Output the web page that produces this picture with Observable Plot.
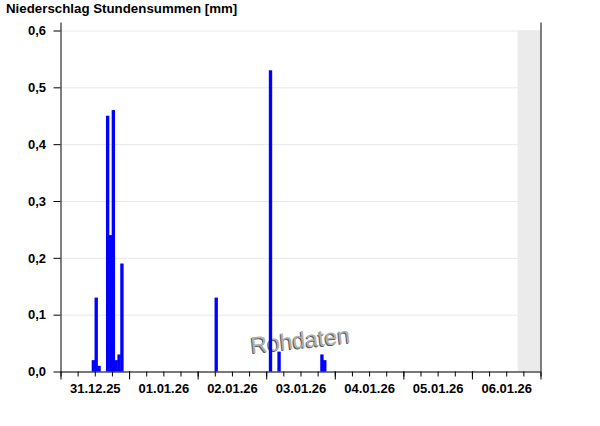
<!DOCTYPE html>
<html>
<head>
<meta charset="utf-8">
<script src="https://cdn.jsdelivr.net/npm/d3@7"></script>
<script src="https://cdn.jsdelivr.net/npm/@observablehq/plot@0.6"></script>
<style>
  html, body { margin: 0; padding: 0; background: #fff; }
  #wrap { position: relative; width: 600px; height: 426px; overflow: hidden; }
  #title { position: absolute; left: 6px; top: 1px; font: bold 13.3px "Liberation Sans", Arial, sans-serif; color: #000; white-space: nowrap; z-index: 2; }
  #chart svg { position: absolute; left: 0; top: 0; }
</style>
</head>
<body>
<div id="wrap">
  <div id="title">Niederschlag Stundensummen [mm]</div>
  <div id="chart"></div>
</div>
<script>
// ---- data ----
const periodStart = "2025-12-31T00:00:00Z";
const periodEnd = "2026-01-07T00:00:00Z";
const futureStart = "2026-01-06T16:00:00Z";
const barHours = [
  "2025-12-31T11:00:00Z", "2025-12-31T12:00:00Z", "2025-12-31T13:00:00Z",
  "2025-12-31T16:00:00Z", "2025-12-31T17:00:00Z", "2025-12-31T18:00:00Z",
  "2025-12-31T19:00:00Z", "2025-12-31T20:00:00Z", "2025-12-31T21:00:00Z",
  "2026-01-02T06:00:00Z",
  "2026-01-03T01:00:00Z", "2026-01-03T04:00:00Z",
  "2026-01-03T19:00:00Z", "2026-01-03T20:00:00Z"
];
const barValues = [0.02, 0.13, 0.01, 0.45, 0.24, 0.46, 0.02, 0.03, 0.19, 0.13, 0.53, 0.035, 0.03, 0.02];
const dayNoons = ["2025-12-31T12:00:00Z", "2026-01-01T12:00:00Z", "2026-01-02T12:00:00Z",
  "2026-01-03T12:00:00Z", "2026-01-04T12:00:00Z", "2026-01-05T12:00:00Z", "2026-01-06T12:00:00Z"];
const dayLabels = ["31.12.25", "01.01.26", "02.01.26", "03.01.26", "04.01.26", "05.01.26", "06.01.26"];
const yTicks = [0, 0.1, 0.2, 0.3, 0.4, 0.5, 0.6];
const yTickLabels = ["0,0", "0,1", "0,2", "0,3", "0,4", "0,5", "0,6"];
const watermark = ["Rohdaten"];

// ---- build ----
const t0 = new Date(periodStart), t1 = new Date(periodEnd);
const bars = barHours.map((h, i) => {
  const a = new Date(h);
  return {x1: a, x2: d3.utcHour.offset(a, 1), y: barValues[i]};
});
const noonDates = dayNoons.map(d => new Date(d));
const labelOf = new Map(noonDates.map((d, i) => [+d, dayLabels[i]]));
const yLabelOf = new Map(yTicks.map((v, i) => [v, yTickLabels[i]]));
const sixHourTicks = d3.utcHour.every(6).range(t0, d3.utcHour.offset(t1, 1));
const midnightTicks = d3.utcDay.range(t0, d3.utcHour.offset(t1, 1));
const band = [{x1: new Date(futureStart), x2: t1}];

const font = '"Liberation Sans", Arial, sans-serif';

const chart = Plot.plot({
  width: 600,
  height: 426,
  marginLeft: 60.5,
  marginRight: 59.5,
  marginTop: 30.5,
  marginBottom: 54.5,
  style: {fontFamily: font, background: "transparent", color: "#000", overflow: "visible"},
  x: {type: "utc", domain: [t0, t1], label: null},
  y: {domain: [0, 0.6], label: null},
  marks: [
    Plot.gridY(yTicks, {stroke: "#e8e8e8", strokeOpacity: 1}),
    Plot.rectY(band, {x1: "x1", x2: "x2", y1: 0, y2: 0.6, fill: "#ebebeb"}),
    Plot.text(watermark, {frameAnchor: "bottom", dx: -1, dy: -23, rotate: -6, fontSize: 23, fill: "#5a5a5a", fontFamily: font}),
    Plot.text(watermark, {frameAnchor: "bottom", dx: 0, dy: -24, rotate: -6, fontSize: 23, fill: "#b0b0b0", fontFamily: font}),
    Plot.rectY(bars, {x1: "x1", x2: "x2", y: "y", fill: "#0000ff", insetLeft: -0.25, insetRight: -0.25}),
    Plot.ruleY([0], {stroke: "#000"}),
    Plot.ruleX([t0], {stroke: "#000", insetTop: -8}),
    Plot.ruleX([t1], {stroke: "#000", insetTop: -8}),
    Plot.axisY(yTicks, {label: null, tickSize: 7, tickPadding: 8, tickFormat: d => yLabelOf.get(d), fontSize: 13, fontWeight: "bold", fontFamily: font, fill: "#000", stroke: "#000"}),
    Plot.axisX(sixHourTicks, {label: null, tickSize: 5, tickFormat: () => "", stroke: "#000"}),
    Plot.axisX(midnightTicks, {label: null, tickSize: 8, tickFormat: () => "", stroke: "#000"}),
    Plot.axisX(noonDates, {label: null, tickSize: 0, tickPadding: 12, tickFormat: d => labelOf.get(+d), fontSize: 13, fontWeight: "bold", fontFamily: font, fill: "#000"})
  ]
});
document.getElementById("chart").appendChild(chart);
</script>
</body>
</html>
